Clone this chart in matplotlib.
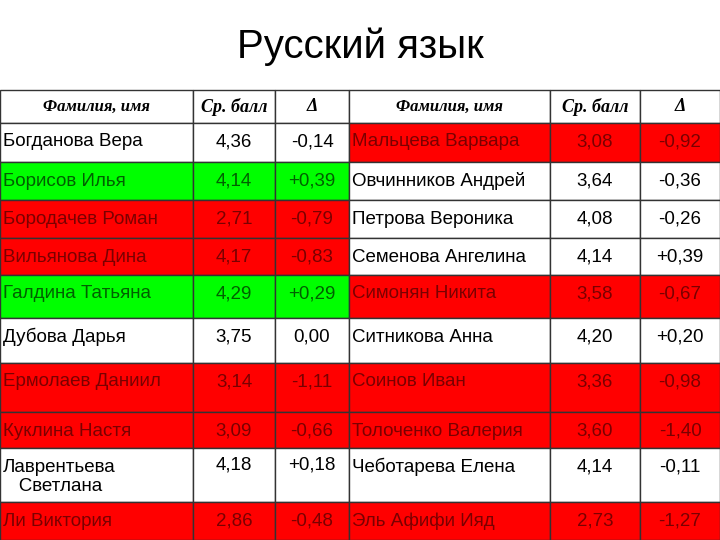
import matplotlib
matplotlib.use("Agg")
import matplotlib.pyplot as plt
from matplotlib.patches import Rectangle

title = "Русский язык"
headers = ["Фамилия, имя", "Ср. балл", "Δ", "Фамилия, имя", "Ср. балл", "Δ"]
names_left = ["Богданова Вера", "Борисов Илья", "Бородачев Роман", "Вильянова Дина", "Галдина Татьяна",
              "Дубова Дарья", "Ермолаев Даниил", "Куклина Настя", "Лаврентьева\n   Светлана", "Ли Виктория"]
score_left = ["4,36", "4,14", "2,71", "4,17", "4,29", "3,75", "3,14", "3,09", "4,18", "2,86"]
delta_left = ["-0,14", "+0,39", "-0,79", "-0,83", "+0,29", "0,00", "-1,11", "-0,66", "+0,18", "-0,48"]
status_left = ["w", "g", "r", "r", "g", "w", "r", "r", "w", "r"]
names_right = ["Мальцева Варвара", "Овчинников Андрей", "Петрова Вероника", "Семенова Ангелина", "Симонян Никита",
               "Ситникова Анна", "Соинов Иван", "Толоченко Валерия", "Чеботарева Елена", "Эль Афифи Ияд"]
score_right = ["3,08", "3,64", "4,08", "4,14", "3,58", "4,20", "3,36", "3,60", "4,14", "2,73"]
delta_right = ["-0,92", "-0,36", "-0,26", "+0,39", "-0,67", "+0,20", "-0,98", "-1,40", "-0,11", "-1,27"]
status_right = ["r", "w", "w", "w", "r", "w", "r", "r", "w", "r"]

col_x = [0, 193, 275, 349, 550, 640, 720]
row_y = [90, 123, 162, 200, 238, 275, 318, 363, 412, 448, 502, 540]
fill = {"w": "white", "g": "#00FF00", "r": "#FF0000"}
tcol = {"w": "black", "g": "#006000", "r": "#7A0000"}

fig = plt.figure(figsize=(7.2, 5.4), dpi=100)
ax = fig.add_axes([0, 0, 1, 1])
ax.set_xlim(0, 720); ax.set_ylim(540, 0); ax.axis("off")

fig.text(0.5, 1 - 47 / 540, title, ha="center", va="center", fontsize=29, family="Liberation Sans")

for c in range(6):
    x0, x1 = col_x[c], col_x[c + 1]
    ax.add_patch(Rectangle((x0, row_y[0]), x1 - x0, row_y[1] - row_y[0], fc="white", ec="#333333", lw=1))
    ax.text((x0 + x1) / 2, (row_y[0] + row_y[1]) / 2, headers[c], ha="center", va="center",
            fontsize=12 if c in (0, 3) else 13, family="Liberation Serif", style="italic", weight="bold")

groups = [(names_left, score_left, delta_left, status_left, 0), (names_right, score_right, delta_right, status_right, 3)]
for names, scores, deltas, stats, c0 in groups:
    for i in range(len(names)):
        y0, y1 = row_y[i + 1], row_y[i + 2]
        two = "\n" in names[i]
        yt = y0 + 17 if two else min((y0 + y1) / 2 + 1, y0 + 19)
        f = fill[stats[i]]; tc = tcol[stats[i]]
        for k, val in enumerate([names[i], scores[i], deltas[i]]):
            x0, x1 = col_x[c0 + k], col_x[c0 + k + 1]
            ax.add_patch(Rectangle((x0, y0), x1 - x0, y1 - y0, fc=f, ec="#333333", lw=1))
            if k == 0:
                ax.text(x0 + 3, y0 + 29 if two else yt, val, ha="left", va="center", fontsize=13.5,
                        color=tc, family="Liberation Sans", linespacing=1.15)
            else:
                ax.text((x0 + x1) / 2, yt, val, ha="center", va="center",
                        fontsize=13.5, color=tc, family="Liberation Sans")

fig.savefig("out.png", dpi=100)
